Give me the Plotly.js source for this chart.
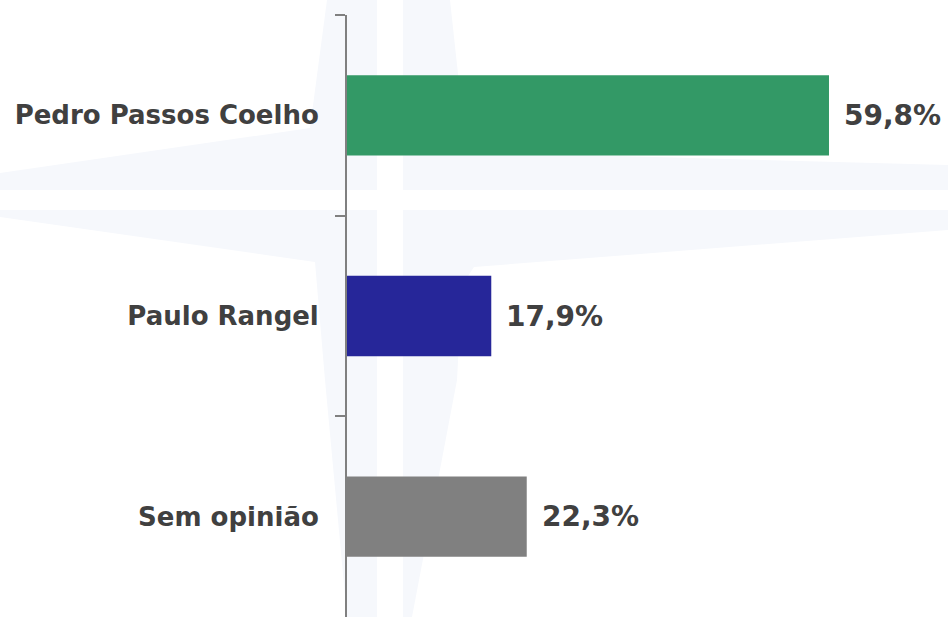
<!DOCTYPE html>
<html>
<head>
<meta charset="utf-8">
<script src="https://cdn.plot.ly/plotly-3.0.1.min.js"></script>
<style>
  html, body { margin: 0; padding: 0; background: #ffffff; }
  #chart { width: 948px; height: 617px; }
</style>
</head>
<body>
<div id="chart"></div>
<script>
// ---- data ----
const categories = ["Pedro Passos Coelho", "Paulo Rangel", "Sem opinião"];
const values = [59.8, 17.9, 22.3];
const barColors = ["#339966", "#262699", "#808080"];
const valueLabels = values.map(v => v.toFixed(1).replace('.', ',') + '%');

// ---- geometry (layout only) ----
const W = 948, H = 617;
const M = { l: 347, r: 0, t: 15, b: 0 };
const plotW = W - M.l - M.r, plotH = H - M.t - M.b;
const px = X => (X - M.l) / plotW;
const py = Y => 1 - (Y - M.t) / plotH;
function poly(points) {
  return 'M ' + points.map(p => px(p[0]).toFixed(5) + ',' + py(p[1]).toFixed(5)).join(' L ') + ' Z';
}
const wm = '#f6f8fc';
const starPieces = [
  [[0,173],[310,128],[327,0],[377,0],[377,190],[0,190]],
  [[403,0],[450,0],[463,120],[472,152],[948,165],[948,190],[403,190]],
  [[0,210],[377,210],[377,617],[347,617],[325,380],[315,262],[0,217]],
  [[403,210],[948,210],[948,230],[474,267],[462,285],[457,380],[412,617],[403,617]]
];
const shapes = starPieces.map(p => ({
  type: 'path', xref: 'paper', yref: 'paper', path: poly(p),
  fillcolor: wm, line: { width: 0 }, layer: 'below'
}));

const font = { family: 'DejaVu Sans, Verdana, sans-serif', color: '#404040', size: 26, weight: 'bold' };
const valueFont = { family: 'DejaVu Sans, Verdana, sans-serif', color: '#404040', size: 28, weight: 'bold' };

const trace = {
  type: 'bar',
  orientation: 'h',
  y: categories,
  x: values,
  marker: { color: barColors, line: { width: 0 } },
  hoverinfo: 'skip',
  cliponaxis: false
};

const annotations = categories.map((c, i) => ({
  x: values[i], y: c, xref: 'x', yref: 'y',
  text: valueLabels[i], showarrow: false,
  xanchor: 'left', yanchor: 'middle', xshift: 13,
  font: valueFont
}));

const layout = {
  width: W, height: H,
  margin: M,
  paper_bgcolor: 'rgba(0,0,0,0)',
  plot_bgcolor: 'rgba(0,0,0,0)',
  bargap: 0.6,
  showlegend: false,
  xaxis: {
    range: [0, plotW / 8.06],
    visible: false, fixedrange: true
  },
  yaxis: {
    type: 'category',
    range: [2.5, -0.5],
    showline: true, linecolor: '#808080', linewidth: 2,
    ticks: 'outside', tickson: 'boundaries', ticklen: 10, tickwidth: 2, tickcolor: '#808080',
    showgrid: false, zeroline: false,
    tickfont: font,
    ticklabelstandoff: 21,
    fixedrange: true
  },
  shapes: shapes,
  annotations: annotations
};

Plotly.newPlot('chart', [trace], layout, { displayModeBar: false, staticPlot: true });
</script>
</body>
</html>
